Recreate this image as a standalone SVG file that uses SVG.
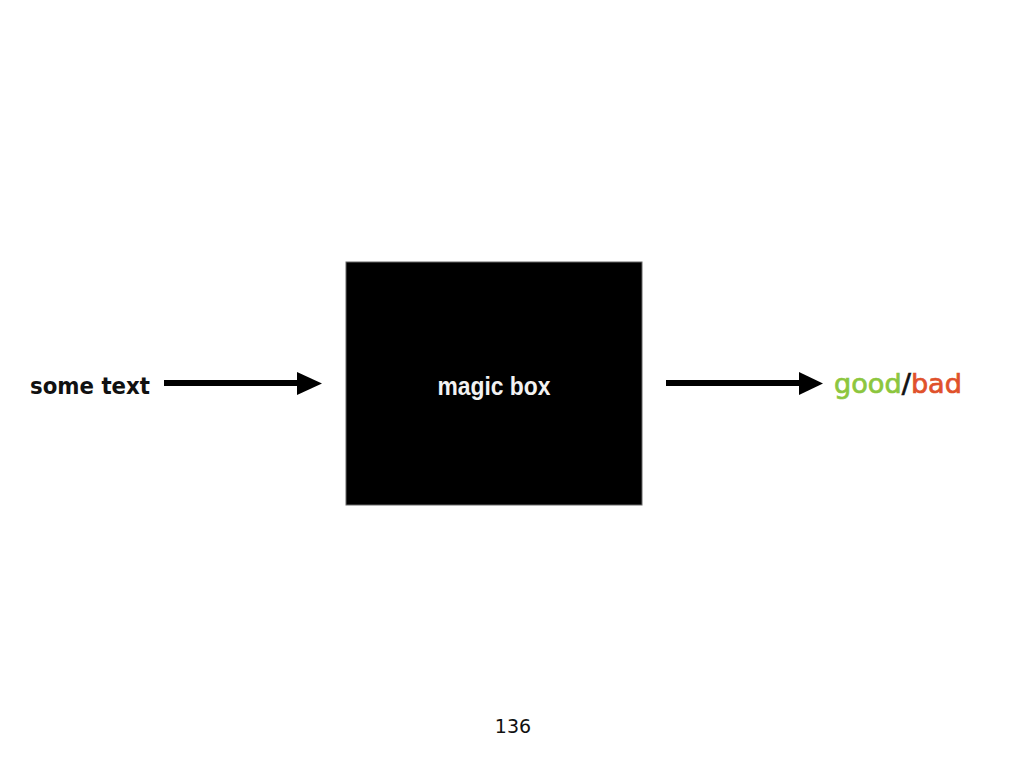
<svg xmlns="http://www.w3.org/2000/svg" width="1024" height="768" viewBox="0 0 1024 768">
<style>
.lbl{font-family:"Century Gothic","URW Gothic","DejaVu Sans","Liberation Sans",sans-serif;}
.conn{stroke:#000;stroke-width:6;fill:none;}
.head{fill:#000;}
</style>
<rect width="1024" height="768" fill="#fff"/>
<g id="input">
<text class="lbl" x="30" y="394" font-size="23" font-weight="bold" fill="#111" textLength="120" lengthAdjust="spacingAndGlyphs">some text</text>
</g>
<g id="magic-box">
<rect x="346" y="262" width="296" height="243" fill="#000" stroke="#666" stroke-width="1"/>
<text x="494" y="395" font-family="'Liberation Sans Narrow','Liberation Sans',sans-serif" font-size="25" font-weight="bold" fill="#f2f2f2" text-anchor="middle" textLength="113" lengthAdjust="spacingAndGlyphs">magic box</text>
</g>
<g id="output">
<text class="lbl" x="834" y="393" font-size="27" stroke-width="0.7" textLength="128" lengthAdjust="spacingAndGlyphs"><tspan fill="#8cc63e" stroke="#8cc63e">good</tspan><tspan fill="#111" stroke="#111">/</tspan><tspan fill="#e0512b" stroke="#e0512b">bad</tspan></text>
</g>
<g id="connectors">
<line class="conn" x1="164" y1="383" x2="299" y2="383"/>
<polygon class="head" points="297,372 322,383.5 297,395"/>
<line class="conn" x1="666" y1="383" x2="801" y2="383"/>
<polygon class="head" points="799,372 823,383.5 799,395"/>
</g>
<text class="lbl" x="513" y="733" font-size="19" fill="#111" text-anchor="middle">136</text>
</svg>
